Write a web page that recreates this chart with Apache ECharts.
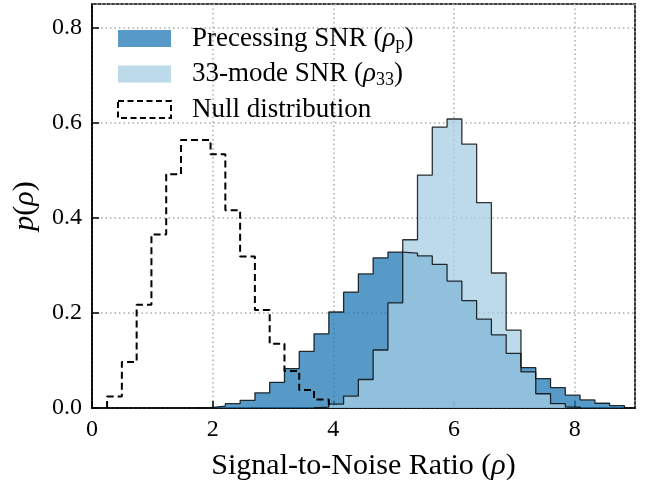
<!DOCTYPE html>
<html>
<head>
<meta charset="utf-8">
<script src="https://cdn.jsdelivr.net/npm/echarts@6/dist/echarts.min.js"></script>
<style>
html,body{margin:0;padding:0;background:#fff}
#chart{width:652px;height:480px}
</style>
</head>
<body>
<div id="chart"></div>
<script>
// bin edges (shared by all three histograms)
var binEdges = [0.25, 0.495, 0.74, 0.985, 1.23, 1.475, 1.72, 1.965, 2.21, 2.455,
  2.70, 2.945, 3.19, 3.435, 3.68, 3.925, 4.17, 4.415, 4.66, 4.905,
  5.15, 5.395, 5.64, 5.885, 6.13, 6.375, 6.62, 6.865, 7.11, 7.355,
  7.60, 7.845, 8.09, 8.335, 8.58, 8.825];

// p(rho) per bin
var precessing = [0, 0, 0, 0, 0, 0, 0.001, 0.004, 0.009, 0.016,
  0.032, 0.054, 0.083, 0.119, 0.156, 0.202, 0.244, 0.282, 0.316, 0.328,
  0.326, 0.320, 0.302, 0.267, 0.226, 0.187, 0.154, 0.115, 0.085, 0.062,
  0.043, 0.027, 0.017, 0.010, 0.005];
var mode33 = [0, 0, 0, 0, 0, 0, 0, 0, 0, 0,
  0, 0, 0, 0, 0.002, 0.008, 0.025, 0.060, 0.122, 0.221,
  0.354, 0.490, 0.591, 0.608, 0.555, 0.432, 0.284, 0.164, 0.076, 0.030,
  0.009, 0.002, 0, 0, 0];
var nullDist = [0.024, 0.097, 0.217, 0.365, 0.492, 0.564, 0.564, 0.534, 0.416, 0.319,
  0.206, 0.135, 0.078, 0.038, 0.018, 0, 0, 0, 0, 0,
  0, 0, 0, 0, 0, 0, 0, 0, 0, 0,
  0, 0, 0, 0, 0];

var names = ['Precessing SNR (ρp)', '33-mode SNR (ρ33)', 'Null distribution'];
var legendText = {};
legendText[names[0]] = 'Precessing SNR ({i|ρ}{s|p})';
legendText[names[1]] = '33-mode SNR ({i|ρ}{s|33})';
legendText[names[2]] = 'Null distribution';

var font = 'Liberation Serif';

// step outline points: up at first edge, across each bin, down at last edge
function stepData(h) {
  var first = -1, last = -1;
  for (var k = 0; k < h.length; k++) {
    if (h[k] > 0) { if (first < 0) first = k; last = k; }
  }
  var pts = [[binEdges[first], 0]];
  for (var k = first; k <= last; k++) pts.push([binEdges[k + 1], h[k]]);
  pts.push([binEdges[last + 1], 0]);
  return pts;
}

var myChart = echarts.init(document.getElementById('chart'));
var option = {
  animation: false,
  textStyle: { fontFamily: font, color: '#000' },
  grid: {
    left: 92, right: 17, top: 4, bottom: 72,
    outerBoundsMode: 'none',
    containLabel: false,
    show: true, borderColor: '#000', borderWidth: 1.6,
    backgroundColor: 'transparent'
  },
  legend: {
    orient: 'vertical',
    left: 117, top: 25,
    padding: 0,
    itemGap: 7,
    itemWidth: 53, itemHeight: 17,
    textStyle: {
      fontFamily: font, fontSize: 27, color: '#000',
      padding: [0, 0, 0, 16],
      rich: {
        i: { fontFamily: font, fontSize: 27, fontStyle: 'italic', color: '#000' },
        s: { fontFamily: font, fontSize: 18, color: '#000', padding: [12, 0, 0, 0] }
      }
    },
    formatter: function (name) { return legendText[name]; },
    data: [
      { name: names[0], icon: 'rect', itemStyle: { color: 'rgba(31,120,180,0.75)', borderWidth: 0 } },
      { name: names[1], icon: 'rect', itemStyle: { color: 'rgba(166,206,227,0.75)', borderWidth: 0 } },
      { name: names[2], icon: 'rect', itemStyle: { color: 'rgba(0,0,0,0)', borderColor: '#000', borderWidth: 2, borderType: [6, 3.5] } }
    ]
  },
  xAxis: {
    type: 'value',
    min: 0, max: 9, interval: 2,
    name: 'Signal-to-Noise Ratio ({i|ρ})',
    nameLocation: 'middle',
    nameGap: 43,
    nameTextStyle: {
      fontFamily: font, fontSize: 30, color: '#000',
      rich: { i: { fontFamily: font, fontSize: 30, fontStyle: 'italic', color: '#000' } }
    },
    axisLine: { show: true, onZero: false, lineStyle: { color: '#000', width: 1.6 } },
    axisTick: { show: true, inside: true, length: 7, lineStyle: { color: '#000', width: 1.5 } },
    axisLabel: { fontFamily: font, fontSize: 24, color: '#000', margin: 10, showMaxLabel: false },
    splitLine: { show: true, lineStyle: { color: '#aaa', width: 1.5, type: [1.5, 3] } }
  },
  yAxis: {
    type: 'value',
    min: 0, max: 0.85, interval: 0.2,
    name: '{i|p}({i|ρ})',
    nameLocation: 'middle',
    nameGap: 52,
    nameTextStyle: {
      fontFamily: font, fontSize: 30, color: '#000',
      rich: { i: { fontFamily: font, fontSize: 30, fontStyle: 'italic', color: '#000' } }
    },
    axisLine: { show: true, onZero: false, lineStyle: { color: '#000', width: 1.6 } },
    axisTick: { show: true, inside: true, length: 7, lineStyle: { color: '#000', width: 1.5 } },
    axisLabel: {
      fontFamily: font, fontSize: 24, color: '#000', margin: 10, showMaxLabel: false,
      formatter: function (v) { return v.toFixed(1); }
    },
    splitLine: { show: true, lineStyle: { color: '#aaa', width: 1.5, type: [1.5, 3] } }
  },
  series: [
    {
      name: names[2],
      type: 'line',
      step: 'start',
      symbol: 'none',
      data: stepData(nullDist),
      lineStyle: { color: '#000', width: 2, type: [7, 4] },
      itemStyle: { color: '#000' }
    },
    {
      name: names[0],
      type: 'line',
      step: 'start',
      symbol: 'none',
      data: stepData(precessing),
      lineStyle: { color: 'rgba(0,0,0,0.8)', width: 1.3 },
      itemStyle: { color: 'rgba(31,120,180,0.75)' },
      areaStyle: { color: 'rgba(31,120,180,0.75)', opacity: 1 }
    },
    {
      name: names[1],
      type: 'line',
      step: 'start',
      symbol: 'none',
      data: stepData(mode33),
      lineStyle: { color: 'rgba(0,0,0,0.8)', width: 1.3 },
      itemStyle: { color: 'rgba(166,206,227,0.75)' },
      areaStyle: { color: 'rgba(166,206,227,0.75)', opacity: 1 }
    }
  ]
};
myChart.setOption(option);
</script>
</body>
</html>
